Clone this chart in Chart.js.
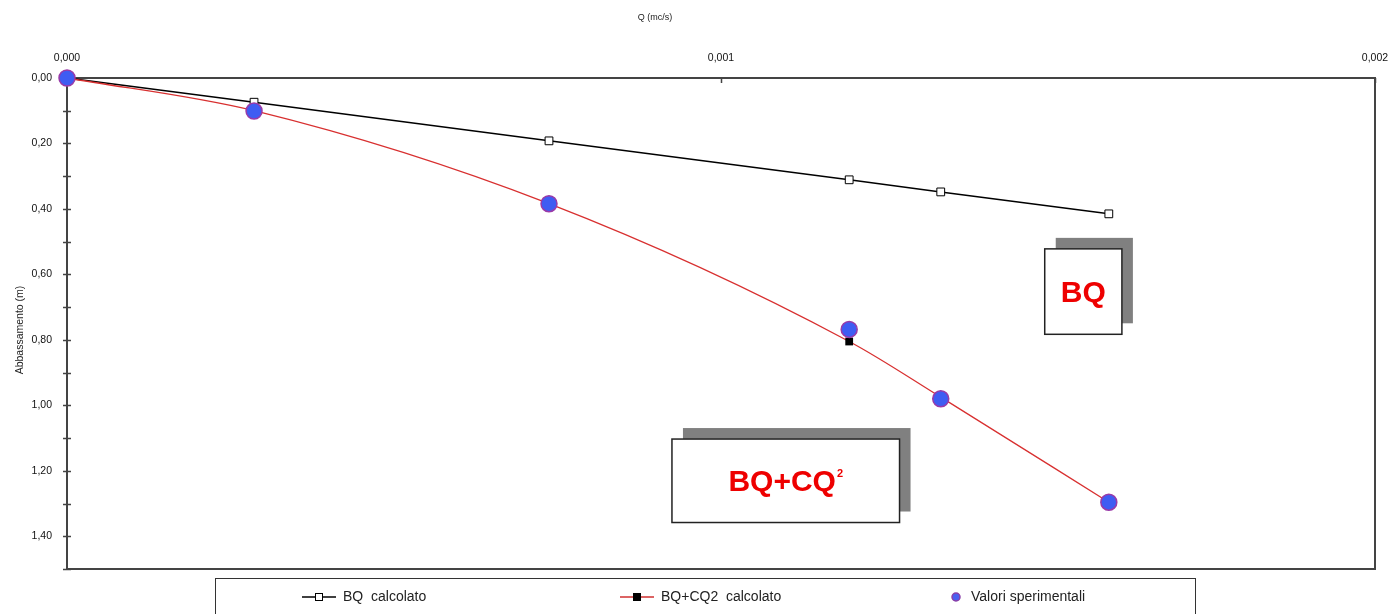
<!DOCTYPE html>
<html>
<head>
<meta charset="utf-8">
<script src="https://cdn.jsdelivr.net/npm/chart.js@4.4.0/dist/chart.umd.min.js"></script>
<style>
    html, body { margin: 0; padding: 0; background: #fff; }
</style>
</head>
<body>
<canvas id="myChart" width="1392" height="614"></canvas>
<script>
// dati
const portate = [0, 0.000286, 0.000737, 0.001196, 0.001336, 0.001593];
const bqCalcolato = [0, 0.074, 0.192, 0.311, 0.348, 0.415];
const bqcq2Calcolato = [0, 0.100, 0.384, 0.805, 0.975, 1.296];
const valoriSperimentali = [0, 0.101, 0.384, 0.768, 0.980, 1.296];
const xTickValues = [0, 0.001, 0.002];
const yTickValues = [0, 0.2, 0.4, 0.6, 0.8, 1.0, 1.2, 1.4];

function punti(ys) {
    return portate.map(function (q, i) {
        return { x: q, y: ys[i] };
    });
}

function virgola(v, dec) {
    return v.toFixed(dec).replace(".", ",");
}

// riquadri BQ e BQ+CQ2 (in coordinate dati)
const etichette = [
    { testo: "BQ", sup: "", x1: 0.001495, x2: 0.001613, y1: 0.522, y2: 0.783 },
    { testo: "BQ+CQ", sup: "2", x1: 0.000925, x2: 0.001273, y1: 1.103, y2: 1.358 },
];

const cornice = {
    id: "cornice",
    beforeDatasetsDraw(chart) {
        const ctx = chart.ctx;
        const a = chart.chartArea;
        const xs = chart.scales.x;
        const ys = chart.scales.y;
        ctx.save();
        ctx.strokeStyle = "#444";
        ctx.lineWidth = 2;
        ctx.strokeRect(a.left, a.top, a.right - a.left, a.bottom - a.top);
        // tacche
        ctx.lineWidth = 1.5;
        ctx.beginPath();
        xs.ticks.forEach(function (t) {
            const px = Math.round(xs.getPixelForValue(t.value)) + 0.5;
            ctx.moveTo(px, a.top);
            ctx.lineTo(px, a.top + 5);
        });
        ys.ticks.forEach(function (t) {
            const py = Math.round(ys.getPixelForValue(t.value)) + 0.5;
            ctx.moveTo(a.left - 4, py);
            ctx.lineTo(a.left + 4, py);
        });
        ctx.stroke();
        ctx.restore();
    },
    afterDraw(chart) {
        const ctx = chart.ctx;
        const xs = chart.scales.x;
        const ys = chart.scales.y;
        ctx.save();

        // titoli assi
        ctx.fillStyle = "#222";
        ctx.font = "9px Arial";
        ctx.textAlign = "center";
        ctx.textBaseline = "middle";
        ctx.fillText("Q (mc/s)", 655, 18);
        ctx.save();
        ctx.translate(20, 330);
        ctx.rotate(-Math.PI / 2);
        ctx.font = "10.5px Arial";
        ctx.fillText("Abbassamento (m)", 0, 0);
        ctx.restore();

        // riquadri con ombra
        etichette.forEach(function (e) {
            const l = xs.getPixelForValue(e.x1);
            const r = xs.getPixelForValue(e.x2);
            const t = ys.getPixelForValue(e.y1);
            const b = ys.getPixelForValue(e.y2);
            ctx.fillStyle = "#808080";
            ctx.fillRect(l + 11, t - 11, r - l, b - t);
            ctx.fillStyle = "#fff";
            ctx.fillRect(l, t, r - l, b - t);
            ctx.strokeStyle = "#222";
            ctx.lineWidth = 1.5;
            ctx.strokeRect(l, t, r - l, b - t);

            ctx.fillStyle = "#ee0000";
            ctx.font = "bold 30px Arial";
            ctx.textBaseline = "middle";
            const w1 = ctx.measureText(e.testo).width;
            ctx.font = "bold 11px Arial";
            const w2 = e.sup ? ctx.measureText(e.sup).width + 1 : 0;
            const cx = (l + r) / 2 - (w1 + w2) / 2;
            const cy = (t + b) / 2 + 2;
            ctx.textAlign = "left";
            ctx.font = "bold 30px Arial";
            ctx.fillText(e.testo, cx, cy);
            if (e.sup) {
                ctx.font = "bold 11px Arial";
                ctx.fillText(e.sup, cx + w1 + 1, cy - 9);
            }
        });

        // legenda
        ctx.strokeStyle = "#333";
        ctx.lineWidth = 1;
        ctx.strokeRect(215.5, 578.5, 980, 50);
        ctx.font = "14px 'Liberation Sans Narrow', Arial";
        ctx.fillStyle = "#222";
        ctx.textAlign = "left";
        ctx.textBaseline = "middle";
        const ly = 597;

        ctx.strokeStyle = "#000";
        ctx.lineWidth = 1.5;
        ctx.beginPath();
        ctx.moveTo(302, ly); ctx.lineTo(336, ly);
        ctx.stroke();
        ctx.fillStyle = "#fff";
        ctx.fillRect(315, ly - 4, 8, 8);
        ctx.lineWidth = 1;
        ctx.strokeRect(315.5, ly - 3.5, 7, 7);
        ctx.fillStyle = "#222";
        ctx.fillText("BQ  calcolato", 343, ly);

        ctx.strokeStyle = "#d03030";
        ctx.lineWidth = 1.5;
        ctx.beginPath();
        ctx.moveTo(620, ly); ctx.lineTo(654, ly);
        ctx.stroke();
        ctx.fillStyle = "#000";
        ctx.fillRect(633, ly - 4, 8, 8);
        ctx.fillStyle = "#222";
        ctx.fillText("BQ+CQ2  calcolato", 661, ly);

        ctx.fillStyle = "#4a5ff0";
        ctx.strokeStyle = "#8a3fa8";
        ctx.beginPath();
        ctx.arc(956, ly, 4, 0, Math.PI * 2);
        ctx.fill();
        ctx.stroke();
        ctx.fillStyle = "#222";
        ctx.fillText("Valori sperimentali", 971, ly);

        ctx.restore();
    },
};

function updateChart() {
    const ctx = document.getElementById("myChart");
    new Chart(ctx, {
        type: "scatter",
        data: {
            datasets: [
                {
                    label: "Valori sperimentali",
                    data: punti(valoriSperimentali),
                    showLine: false,
                    pointRadius: 8,
                    pointBackgroundColor: "#3f5cf2",
                    pointBorderColor: "#9a3aa8",
                    pointBorderWidth: 1.5,
                    order: 0,
                    clip: false,
                },
                {
                    label: "BQ+CQ2 calcolato",
                    data: punti(bqcq2Calcolato),
                    showLine: true,
                    borderColor: "#d83030",
                    borderWidth: 1.3,
                    cubicInterpolationMode: "monotone",
                    pointStyle: "rect",
                    pointRadius: 5.5,
                    pointBackgroundColor: "#000",
                    pointBorderColor: "#000",
                    pointBorderWidth: 0,
                    order: 1,
                    clip: false,
                },
                {
                    label: "BQ calcolato",
                    data: punti(bqCalcolato),
                    showLine: true,
                    borderColor: "#000",
                    borderWidth: 1.5,
                    pointStyle: "rect",
                    pointRadius: 5.5,
                    pointBackgroundColor: "#fff",
                    pointBorderColor: "#000",
                    pointBorderWidth: 1,
                    order: 2,
                    clip: false,
                },
            ],
        },
        options: {
            responsive: false,
            animation: false,
            devicePixelRatio: 1,
            layout: { padding: { top: 0, right: 17, bottom: 45, left: 0 } },
            plugins: {
                legend: { display: false },
                tooltip: { enabled: false },
            },
            scales: {
                x: {
                    type: "linear",
                    position: "top",
                    min: 0,
                    max: 0.002,
                    afterFit: function (s) { s.height = 78; s.paddingRight = 0; s.paddingLeft = 0; },
                    afterBuildTicks: function (s) {
                        s.ticks = xTickValues.map(function (v) { return { value: v }; });
                    },
                    ticks: {
                        color: "#111",
                        font: { family: "Arial", size: 10.5 },
                        padding: 14,
                        maxRotation: 0,
                        callback: function (v) { return virgola(v, 3); },
                    },
                    grid: { drawOnChartArea: false, drawTicks: false },
                    border: { display: false },
                },
                y: {
                    type: "linear",
                    reverse: true,
                    min: 0,
                    max: 1.5,
                    afterFit: function (s) { s.width = 67; },
                    afterBuildTicks: function (s) {
                        const t = [];
                        for (let i = 0; i <= 15; i++) t.push({ value: i / 10 });
                        s.ticks = t;
                    },
                    ticks: {
                        color: "#111",
                        font: { family: "Arial", size: 10.5 },
                        padding: 15,
                        autoSkip: false,
                        callback: function (v) {
                            const k = yTickValues.findIndex(function (y) { return Math.abs(y - v) < 1e-6; });
                            return k >= 0 ? virgola(v, 2) : "";
                        },
                    },
                    grid: { drawOnChartArea: false, drawTicks: false },
                    border: { display: false },
                },
            },
        },
        plugins: [cornice],
    });
}

window.onload = function () {
    updateChart();
};
</script>
</body>
</html>
